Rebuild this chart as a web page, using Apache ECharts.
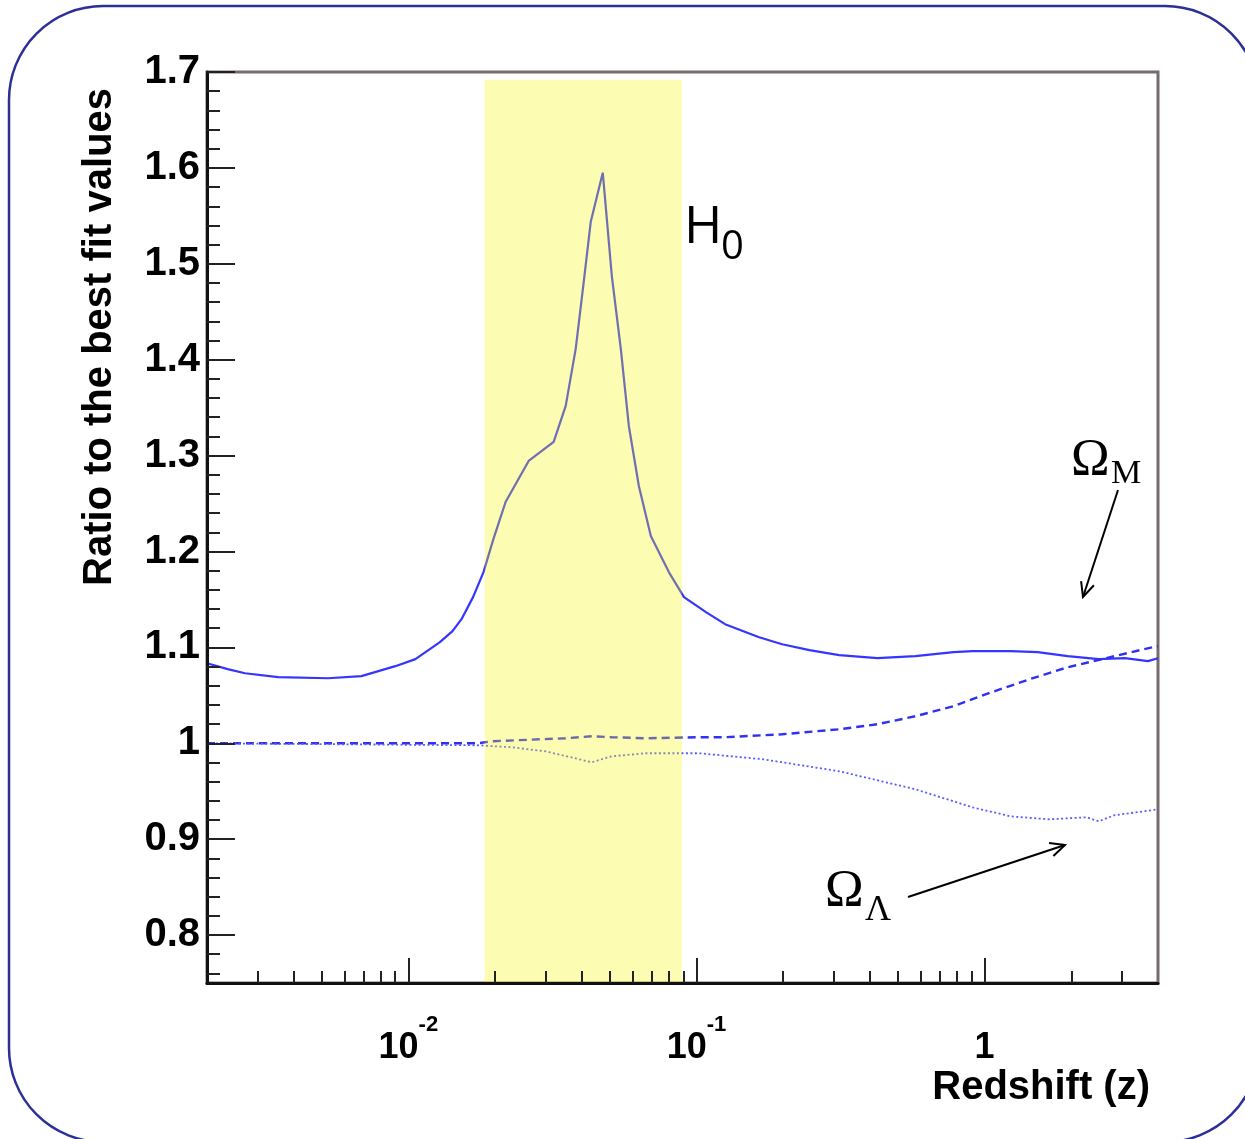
<!DOCTYPE html>
<html><head><meta charset="utf-8">
<script src="https://cdn.jsdelivr.net/npm/echarts@6/dist/echarts.min.js"></script>
<style>html,body{margin:0;padding:0;background:#fff}#c{width:1245px;height:1139px}</style>
</head><body><div id="c"></div>
<script>
// ---- data ----
const h0Z = [0.002,0.00236,0.00271,0.00353,0.00527,0.00687,0.00901,0.01058,0.01287,0.01423,0.01529,0.01677,0.01823,0.01973,0.02175,0.02615,0.03194,0.03517,0.03809,0.04062,0.04296,0.04729,0.05083,0.05463,0.05825,0.0631,0.06945,0.0802,0.0905,0.1079,0.1257,0.165,0.1984,0.2467,0.3131,0.4244,0.5754,0.7801,0.9085,1.2316,1.529,1.944,2.492,3.069,3.69,4.0];
const h0Ratio = [1.0835,1.0773,1.0730,1.0689,1.0678,1.070,1.0804,1.0877,1.1054,1.117,1.1294,1.1524,1.1785,1.2129,1.2516,1.2944,1.3142,1.3518,1.4113,1.4812,1.5438,1.595,1.4875,1.4113,1.3309,1.2683,1.2161,1.1785,1.1524,1.1367,1.1242,1.1106,1.1033,1.0971,1.0919,1.0887,1.0908,1.095,1.096,1.096,1.095,1.0908,1.0877,1.0887,1.0856,1.0887];
const omZ = [0.002,0.01752,0.01944,0.03517,0.04331,0.05083,0.06673,0.102,0.1257,0.1984,0.3131,0.4244,0.5754,0.7801,1.0576,1.434,1.944,2.636,3.573,4.0];
const omRatio = [1.0,1.0,1.0021,1.0052,1.0073,1.0063,1.0052,1.0063,1.0063,1.0094,1.0146,1.0198,1.0282,1.0386,1.0532,1.0668,1.0793,1.0887,1.0981,1.1013];
const olZ = [0.002,0.01752,0.02282,0.02996,0.04331,0.05083,0.06673,0.102,0.1703,0.3131,0.5754,0.9085,1.2316,1.669,2.263,2.492,2.81,4.0];
const olRatio = [1.0,0.9979,0.9958,0.9916,0.9802,0.9864,0.9896,0.9896,0.9833,0.9708,0.952,0.9332,0.9238,0.9207,0.9228,0.9186,0.9248,0.9311];
const bandZ = [0.0184, 0.089];
const bandTop = 1.692;
const yRange = [0.75, 1.7];
const xRange = [0.002, 4];
const yLabelTicks = [0.8,0.9,1.0,1.1,1.2,1.3,1.4,1.5,1.6,1.7];
const yTickLabels = ['0.8','0.9','1','1.1','1.2','1.3','1.4','1.5','1.6','1.7'];
const yMinorTicks = [0.76,0.78,0.82,0.84,0.86,0.88,0.92,0.94,0.96,0.98,1.02,1.04,1.06,1.08,1.12,1.14,1.16,1.18,1.22,1.24,1.26,1.28,1.32,1.34,1.36,1.38,1.42,1.44,1.46,1.48,1.52,1.54,1.56,1.58,1.62,1.64,1.66,1.68];
const xLabelTicks = [0.01, 0.1, 1];
const xTickLabels = [['10','-2'],['10','-1'],['1','']];
const xMinorTicks = [0.003,0.004,0.005,0.006,0.007,0.008,0.009,0.02,0.03,0.04,0.05,0.06,0.07,0.08,0.09,0.2,0.3,0.4,0.5,0.6,0.7,0.8,0.9,2,3];

function zip(a,b){return a.map((v,i)=>[v,b[i]]);}
function idxOf(arr,v){for(let i=0;i<arr.length;i++){if(Math.abs(arr[i]-v)<1e-9*Math.max(1,Math.abs(v)))return i;}return -1;}

const chart = echarts.init(document.getElementById('c'), null, {renderer:'canvas'});
const tickStyle = {color:'#222', width:2};
const option = {
  animation:false,
  backgroundColor:'#fff',
  grid:{left:207, right:87, top:72, bottom:156, show:true, borderColor:'#776b6b', borderWidth:3, backgroundColor:'transparent'},
  xAxis:[
    {type:'log', logBase:10, min:xRange[0], max:xRange[1], position:'bottom', z:5,
     axisLine:{show:true, lineStyle:{color:'#111', width:3}},
     axisTick:{show:true, inside:true, length:25, customValues:xLabelTicks, lineStyle:tickStyle},
     axisLabel:{show:true, customValues:xLabelTicks, margin:31,
       formatter:function(v){const i=idxOf(xLabelTicks,v); if(i<0) return ''; const t=xTickLabels[i]; return t[1]?('{b|'+t[0]+'}{s|'+t[1]+'}'):('{b|'+t[0]+'}');},
       rich:{b:{fontSize:36, fontWeight:'bold', fontFamily:'Liberation Sans', color:'#000', lineHeight:52, verticalAlign:'bottom'},
             s:{fontSize:22, fontWeight:'bold', fontFamily:'Liberation Sans', color:'#000', verticalAlign:'top'}}},
     splitLine:{show:false}, minorTick:{show:false}},
    {type:'log', logBase:10, min:xRange[0], max:xRange[1], position:'bottom', z:5,
     axisLine:{show:false},
     axisTick:{show:true, inside:true, length:12, customValues:xMinorTicks, lineStyle:tickStyle},
     axisLabel:{show:false}, splitLine:{show:false}}
  ],
  yAxis:[
    {type:'value', min:yRange[0], max:yRange[1], position:'left', z:5,
     axisLine:{show:true, lineStyle:{color:'#111', width:3}},
     axisTick:{show:true, inside:true, length:28, customValues:yLabelTicks, lineStyle:tickStyle},
     axisLabel:{show:true, customValues:yLabelTicks, margin:7, fontSize:40, fontWeight:'bold', fontFamily:'Liberation Sans', color:'#000',
       formatter:function(v){const i=idxOf(yLabelTicks,v); return i<0?'':yTickLabels[i];}},
     splitLine:{show:false}},
    {type:'value', min:yRange[0], max:yRange[1], position:'left', z:5,
     axisLine:{show:false},
     axisTick:{show:true, inside:true, length:13, customValues:yMinorTicks, lineStyle:tickStyle},
     axisLabel:{show:false}, splitLine:{show:false}}
  ],
  series:[
    {name:'H0', type:'line', xAxisIndex:0, yAxisIndex:0, data:zip(h0Z,h0Ratio), symbol:'none', z:2,
     lineStyle:{color:'#3535ff', width:2.2}},
    {name:'OmegaM', type:'line', xAxisIndex:0, yAxisIndex:0, data:zip(omZ,omRatio), symbol:'none', z:2,
     lineStyle:{color:'#3030f0', width:2.4, type:[8,5]}},
    {name:'OmegaL', type:'line', xAxisIndex:0, yAxisIndex:0, data:zip(olZ,olRatio), symbol:'none', z:2,
     lineStyle:{color:'#5a5aff', width:1.8, type:[2,2.5]}},
    {name:'band', type:'line', xAxisIndex:0, yAxisIndex:0, data:[], z:3, silent:true,
     markArea:{silent:true, z:4, itemStyle:{color:'rgba(245,245,0,0.3)'},
       data:[[{coord:[bandZ[0], yRange[0]]},{coord:[bandZ[1], bandTop]}]]}}
  ],
  graphic:[
    {type:'rect', silent:true, z:-10, shape:{x:9, y:6, width:1250, height:1136, r:94}, style:{fill:'none', stroke:'#2b2f96', lineWidth:2.5}},
    {type:'text', silent:true, x:100, y:337, rotation:Math.PI/2,
     style:{text:'Ratio to the best fit values', fontSize:40, fontWeight:'bold', fontFamily:'Liberation Sans', fill:'#000', align:'center', verticalAlign:'middle'}},
    {type:'text', silent:true, x:1150, y:1088,
     style:{text:'Redshift (z)', fontSize:40, fontWeight:'bold', fontFamily:'Liberation Sans', fill:'#000', align:'right', verticalAlign:'middle'}},
    {type:'text', silent:true, x:684, y:228, style:{text:'H', fontSize:52, fontFamily:'Open Sans', fill:'#000', align:'left', verticalAlign:'middle'}},
    {type:'text', silent:true, x:721, y:248, style:{text:'0', fontSize:40, fontFamily:'Open Sans', fill:'#000', align:'left', verticalAlign:'middle'}},
    {type:'text', silent:true, x:1071, y:461, style:{text:'Ω', fontSize:52, fontFamily:'Liberation Serif', fill:'#000', align:'left', verticalAlign:'middle'}},
    {type:'text', silent:true, x:1111, y:474, style:{text:'M', fontSize:34, fontFamily:'Liberation Serif', fill:'#000', align:'left', verticalAlign:'middle'}},
    {type:'text', silent:true, x:825, y:892, style:{text:'Ω', fontSize:52, fontFamily:'Liberation Serif', fill:'#000', align:'left', verticalAlign:'middle'}},
    {type:'text', silent:true, x:865, y:911, style:{text:'Λ', fontSize:36, fontFamily:'Liberation Serif', fill:'#000', align:'left', verticalAlign:'middle'}},
    {type:'line', silent:true, shape:{x1:1118, y1:490, x2:1083, y2:597}, style:{stroke:'#000', lineWidth:2}},
    {type:'polyline', silent:true, shape:{points:[[1093.9,585.3],[1083,597],[1081.1,581.1]]}, style:{stroke:'#000', lineWidth:2, fill:null}},
    {type:'line', silent:true, shape:{x1:908, y1:897, x2:1065, y2:845}, style:{stroke:'#000', lineWidth:2}},
    {type:'polyline', silent:true, shape:{points:[[1049.1,843.1],[1065,845],[1053.4,856]]}, style:{stroke:'#000', lineWidth:2, fill:null}}
  ]
};
chart.setOption(option);
</script>
</body></html>
